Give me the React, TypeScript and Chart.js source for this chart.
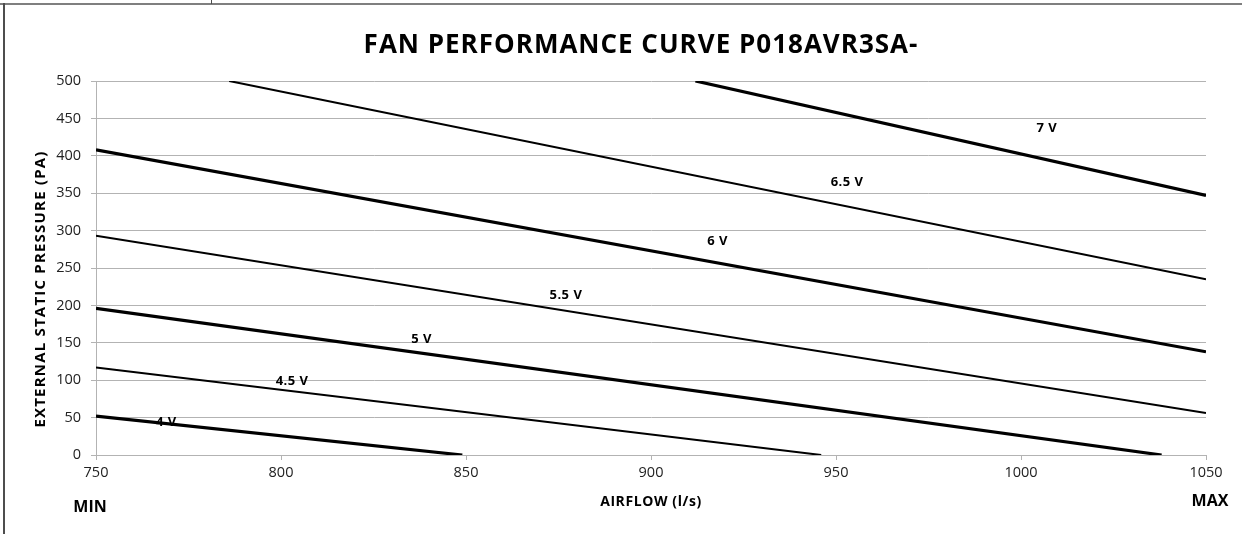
import React, { useEffect, useRef } from "react";
import { Chart, registerables } from "chart.js";

Chart.register(...registerables);

const chartTitle = "FAN PERFORMANCE CURVE P018AVR3SA-";
const xAxisTitle = "AIRFLOW (l/s)";
const yAxisTitle = "EXTERNAL STATIC PRESSURE (PA)";
const minLabel = "MIN";
const maxLabel = "MAX";

const voltages = ["4 V", "4.5 V", "5 V", "5.5 V", "6 V", "6.5 V", "7 V"];
const airflowStart = [750, 750, 750, 750, 750, 786, 912];
const pressureStart = [52, 117, 196, 293, 408, 500, 500];
const airflowEnd = [849, 946, 1038, 1050, 1050, 1050, 1050];
const pressureEnd = [0, 0, 0, 56, 138, 235, 347];
const labelAirflow = [769, 803, 838, 877, 918, 953, 1007];
const labelPressure = [44, 99, 155, 213, 286, 364, 437];

const xMin = 750;
const xMax = 1050;
const xStep = 50;
const yMin = 0;
const yMax = 500;
const yStep = 50;

const FONT = "'Open Sans', sans-serif";

const decorPlugin = {
  id: "decor",
  afterDatasetsDraw(chart: any) {
    const ctx = chart.ctx;
    const xs = chart.scales.x;
    const ys = chart.scales.y;
    ctx.save();
    ctx.fillStyle = "#000";
    ctx.textAlign = "center";
    ctx.textBaseline = "middle";
    ctx.font = `bold 13px ${FONT}`;
    (ctx as any).letterSpacing = "0.5px";
    voltages.forEach((v, i) => {
      ctx.fillText(v, xs.getPixelForValue(labelAirflow[i]), ys.getPixelForValue(labelPressure[i]));
    });
    ctx.restore();
  },
  afterDraw(chart: any) {
    const ctx = chart.ctx;
    const area = chart.chartArea;
    ctx.save();
    ctx.fillStyle = "#000";
    ctx.textAlign = "center";
    ctx.textBaseline = "middle";
    ctx.font = `bold 26px ${FONT}`;
    (ctx as any).letterSpacing = "1px";
    ctx.fillText(chartTitle, 641, 46);
    ctx.font = `bold 14px ${FONT}`;
    (ctx as any).letterSpacing = "0.6px";
    ctx.fillText(xAxisTitle, (area.left + area.right) / 2, 502);
    ctx.font = `bold 16px ${FONT}`;
    (ctx as any).letterSpacing = "0px";
    ctx.fillText(minLabel, 90, 507);
    ctx.fillText(maxLabel, 1210, 501);
    ctx.save();
    ctx.translate(41, 289);
    ctx.rotate(-Math.PI / 2);
    ctx.font = `bold 15px ${FONT}`;
    (ctx as any).letterSpacing = "1.2px";
    ctx.fillText(yAxisTitle, 0, 0);
    ctx.restore();
    ctx.restore();
  },
};

export default function App() {
  const ref = useRef<HTMLCanvasElement | null>(null);
  useEffect(() => {
    if (!ref.current) return;
    const datasets = voltages.map((v, i) => ({
      label: v,
      data: [
        { x: airflowStart[i], y: pressureStart[i] },
        { x: airflowEnd[i], y: pressureEnd[i] },
      ],
      showLine: true,
      borderColor: "#000",
      backgroundColor: "#000",
      borderWidth: i % 2 === 0 ? 3.2 : 2,
      pointRadius: 0,
      pointHoverRadius: 0,
    }));
    const chart = new Chart(ref.current, {
      type: "scatter",
      data: { datasets },
      options: {
        animation: false,
        responsive: false,
        maintainAspectRatio: false,
        layout: { padding: { left: 0, right: 36, top: 81, bottom: 0 } },
        plugins: { legend: { display: false }, tooltip: { enabled: false }, title: { display: false } },
        scales: {
          x: {
            type: "linear",
            min: xMin,
            max: xMax,
            afterFit(scale: any) {
              scale.height = 79;
            },
            ticks: {
              stepSize: xStep,
              padding: 4,
              color: "#222",
              font: { family: FONT, size: 14.5 },
              callback: (v: any) => String(v),
            },
            grid: {
              display: true,
              drawOnChartArea: false,
              drawTicks: true,
              tickLength: 5,
              color: "#b3b3b3",
            },
            border: { color: "#b3b3b3", width: 1 },
          },
          y: {
            type: "linear",
            min: yMin,
            max: yMax,
            afterFit(scale: any) {
              scale.width = 96;
            },
            ticks: {
              stepSize: yStep,
              padding: 10,
              color: "#222",
              font: { family: FONT, size: 14.5 },
              callback: (v: any) => String(v),
            },
            grid: {
              color: "#b3b3b3",
              tickLength: 5,
              lineWidth: 1,
            },
            border: { color: "#b3b3b3", width: 1 },
          },
        },
      },
      plugins: [decorPlugin],
    });
    return () => chart.destroy();
  }, []);
  return (
    <div style={{ position: "fixed", left: 0, top: 0, width: 1242, height: 534, background: "#fff" }}>
      <div style={{ position: "absolute", left: 0, top: 3, width: 1242, height: 2, background: "#7f7f7f" }} />
      <div style={{ position: "absolute", left: 3, top: 3, width: 2, height: 531, background: "#4d4d4d" }} />
      <div style={{ position: "absolute", left: 211, top: 0, width: 1, height: 4, background: "#4d4d4d" }} />
      <canvas ref={ref} width={1242} height={534} style={{ position: "absolute", left: 0, top: 0 }} />
    </div>
  );
}
